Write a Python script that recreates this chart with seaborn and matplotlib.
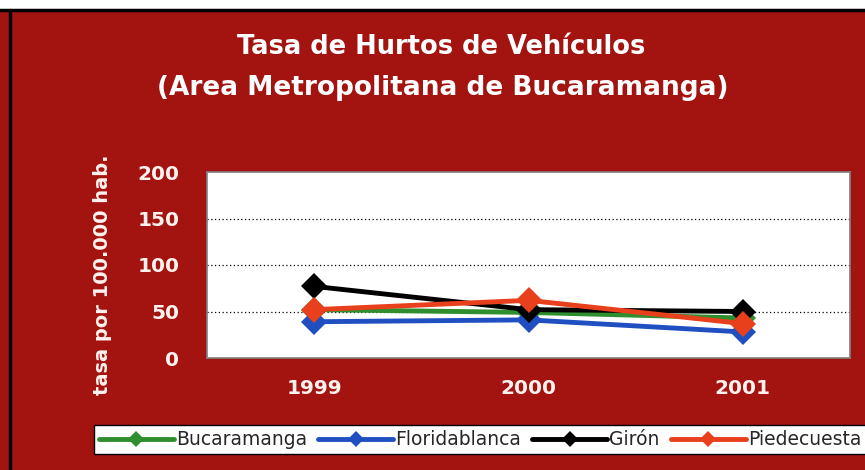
import pandas as pd
import matplotlib.pyplot as plt
import seaborn as sns
from matplotlib.patches import Rectangle
from matplotlib.lines import Line2D

sns.set_theme(style="white")
plt.rcParams['font.family'] = ['DejaVu Sans']

years = ["1999", "2000", "2001"]
bucaramanga = [52, 49, 43]
floridablanca = [39, 41, 28]
giron = [77, 52, 50]
piedecuesta = [52, 62, 37]

names = ["Bucaramanga", "Floridablanca", "Girón", "Piedecuesta"]
colors = ["#2f8f2f", "#1f4fc0", "#000000", "#e8401c"]

rows = []
for name, vals in zip(names, [bucaramanga, floridablanca, giron, piedecuesta]):
    for y, v in zip(years, vals):
        rows.append({"Año": y, "Tasa": v, "Municipio": name})
df = pd.DataFrame(rows)

bg = "#a3130f"
txt = "#fff2ee"
fig = plt.figure(figsize=(8.65, 4.7), dpi=100, facecolor=bg)
# white strip on top and black frame like the scanned chart
fig.patches.append(Rectangle((0, 1 - 9 / 470), 1, 9 / 470, transform=fig.transFigure,
                             facecolor="white", edgecolor="none", zorder=0))
fig.add_artist(Line2D([0, 1], [1 - 10 / 470] * 2, color="black", lw=2.5, transform=fig.transFigure))
fig.add_artist(Line2D([10 / 865] * 2, [0, 1 - 10 / 470], color="black", lw=2.5, transform=fig.transFigure))

ax = fig.add_axes([207 / 865, 1 - 358 / 470, 643 / 865, 186 / 470])
ax.set_facecolor("white")

sns.lineplot(data=df, x="Año", y="Tasa", hue="Municipio", palette=colors,
             marker="D", markersize=13, markeredgewidth=0, linewidth=3.5,
             ax=ax, sort=False)

ax.set_ylim(0, 200)
ax.set_yticks([0, 50, 100, 150, 200])
ax.set_xlim(-0.5, 2.5)
for yv in [50, 100, 150]:
    ax.axhline(yv, color="black", lw=0.9, ls=(0, (1, 2)), zorder=0)
for s in ax.spines.values():
    s.set_color("#808080")
    s.set_linewidth(1.2)

ax.tick_params(axis="both", colors=txt, labelsize=14.5, length=0)
ax.tick_params(axis="y", pad=20)
ax.tick_params(axis="x", pad=15)
for lab in ax.get_xticklabels() + ax.get_yticklabels():
    lab.set_fontweight("bold")
ax.set_xlabel("")
ax.set_ylabel("tasa por 100.000 hab.", color=txt, fontsize=14, fontweight="bold")
ax.yaxis.set_label_coords(-0.147, 0.445)

fig.text(0.51, 1 - 47 / 470, "Tasa de Hurtos de Vehículos", color="white", fontsize=18.5,
         fontweight="bold", ha="center", va="center")
fig.text(0.512, 1 - 88 / 470, "(Area Metropolitana de Bucaramanga)", color="white", fontsize=19,
         fontweight="bold", ha="center", va="center")

handles, labels = ax.get_legend_handles_labels()
ax.legend_.remove()
leg = fig.legend(handles, labels, loc="upper center", bbox_to_anchor=(480 / 865, 1 - 416 / 470),
                 ncol=4, frameon=True, fancybox=False, fontsize=13.5, handlelength=4,
                 handletextpad=0.1, columnspacing=0.6, borderpad=0.25, markerscale=0.6)
leg.get_frame().set_edgecolor("black")
leg.get_frame().set_facecolor("white")
leg.get_frame().set_alpha(1)

fig.savefig("out.png", dpi=100, facecolor=bg)
